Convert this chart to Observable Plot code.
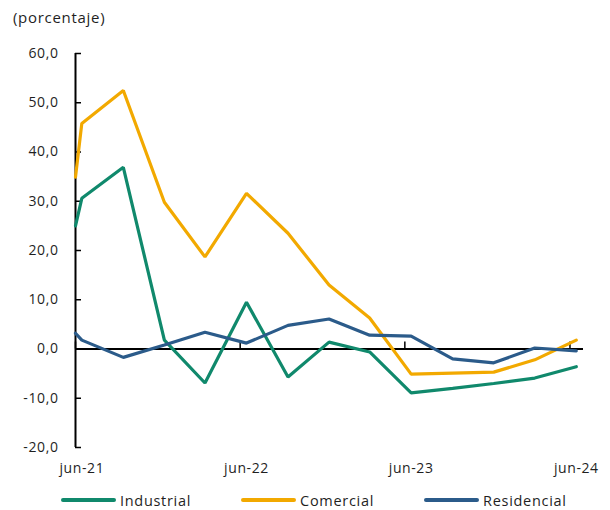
<!DOCTYPE html>
<html>
<head>
<meta charset="utf-8">
<script src="https://cdn.jsdelivr.net/npm/d3@7"></script>
<script src="https://cdn.jsdelivr.net/npm/@observablehq/plot@0.6"></script>
<style>
  html, body { margin: 0; padding: 0; background: #fff; }
  body { width: 610px; height: 510px; overflow: hidden; font-family: "Open Sans", sans-serif; color: #1f1f1f; }
  #title { height: 30px; box-sizing: border-box; padding-left: 13px; padding-top: 7px; font-size: 15px; letter-spacing: 0.7px; line-height: 20px; }
  #chart svg { display: block; }
  #legend { height: 30px; display: flex; align-items: center; padding-left: 61px; gap: 50px; font-size: 14.5px; letter-spacing: 0.7px; padding-top: 10px; box-sizing: border-box; }
  .item { display: flex; align-items: center; gap: 4px; }
  .sw { width: 55px; height: 3.5px; border-radius: 2px; }
</style>
</head>
<body>
<div id="title">(porcentaje)</div>
<div id="chart"></div>
<div id="legend"></div>
<script>
// ---- data ----
const series = ["Industrial", "Comercial", "Residencial"];
const colors = ["#10896c", "#f2a900", "#2b5b8a"];
// first entry: value where each line enters the plot at the left edge (jun-21)
const dates = ["2021-06-01", "2021-06-15", "2021-09-15", "2021-12-15", "2022-03-15", "2022-06-15",
               "2022-09-15", "2022-12-15", "2023-03-15", "2023-06-15", "2023-09-15", "2023-12-15",
               "2024-03-15", "2024-06-15"];
const industrial  = [25.0, 30.6, 36.9, 1.8, -6.9, 9.5, -5.7, 1.4, -0.6, -8.9, -8.0, -7.0, -5.9, -3.6];
const comercial   = [34.9, 45.8, 52.5, 29.8, 18.7, 31.6, 23.5, 13.0, 6.3, -5.1, -4.9, -4.7, -2.2, 1.8];
const residencial = [3.2, 1.8, -1.7, 0.8, 3.4, 1.2, 4.8, 6.1, 2.8, 2.6, -2.0, -2.8, 0.2, -0.4];
const yTicks = [-20, -10, 0, 10, 20, 30, 40, 50, 60];
const xTickDates = ["2021-06-01", "2022-06-01", "2023-06-01", "2024-06-01"];
const xLabelDates = ["2021-06-15", "2022-06-15", "2023-06-15", "2024-06-15"];
const xLabels = ["jun-21", "jun-22", "jun-23", "jun-24"];
const xDomain = ["2021-06-01", "2024-07-01"];

// ---- build ----
const parse = d3.utcParse("%Y-%m-%d");
const values = [industrial, comercial, residencial];
const rows = [];
series.forEach((s, j) => dates.forEach((d, i) => rows.push({date: parse(d), value: values[j][i], serie: s})));
const fmt = d3.formatLocale({decimal: ",", thousands: ".", grouping: [3], currency: ["", ""], minus: "-"}).format(".1f");
const labelMap = new Map(xLabelDates.map((d, i) => [+parse(d), xLabels[i]]));
const x0 = parse(xDomain[0]);

const chart = Plot.plot({
  width: 610, height: 450,
  marginLeft: 75, marginRight: 27, marginTop: 23, marginBottom: 33,
  x: {type: "utc", domain: xDomain.map(parse), label: null},
  y: {domain: [-20, 60], label: null},
  color: {domain: series, range: colors},
  style: {fontFamily: "'Open Sans', sans-serif", fontSize: "14px", color: "#1f1f1f", letterSpacing: "0.6px", background: "white"},
  marks: [
    Plot.ruleY([0], {stroke: "black", strokeWidth: 2}),
    Plot.ruleX(xTickDates, {x: d => parse(d), y1: 0, y2: 0, insetTop: -7, stroke: "black", strokeWidth: 1.5}),
    Plot.ruleY(yTicks, {y: d => d, x1: () => x0, x2: () => x0, insetRight: -6, stroke: "black", strokeWidth: 1.5}),
    Plot.ruleX([x0], {y1: -20, y2: 60, stroke: "black", strokeWidth: 2}),
    Plot.axisY({ticks: yTicks, tickSize: 0, tickPadding: 17, tickFormat: fmt, label: null}),
    Plot.axisX({ticks: xLabelDates.map(parse), tickSize: 0, tickPadding: 16, tickFormat: d => labelMap.get(+d), label: null}),
    Plot.line(rows, {x: "date", y: "value", z: "serie", stroke: "serie", strokeWidth: 3.2, strokeLinejoin: "miter"})
  ]
});
document.getElementById("chart").append(chart);

const legend = document.getElementById("legend");
series.forEach((s, i) => {
  const it = document.createElement("div");
  it.className = "item";
  const sw = document.createElement("span");
  sw.className = "sw";
  sw.style.background = colors[i];
  const t = document.createElement("span");
  t.textContent = s;
  it.append(sw, t);
  legend.append(it);
});
</script>
</body>
</html>
